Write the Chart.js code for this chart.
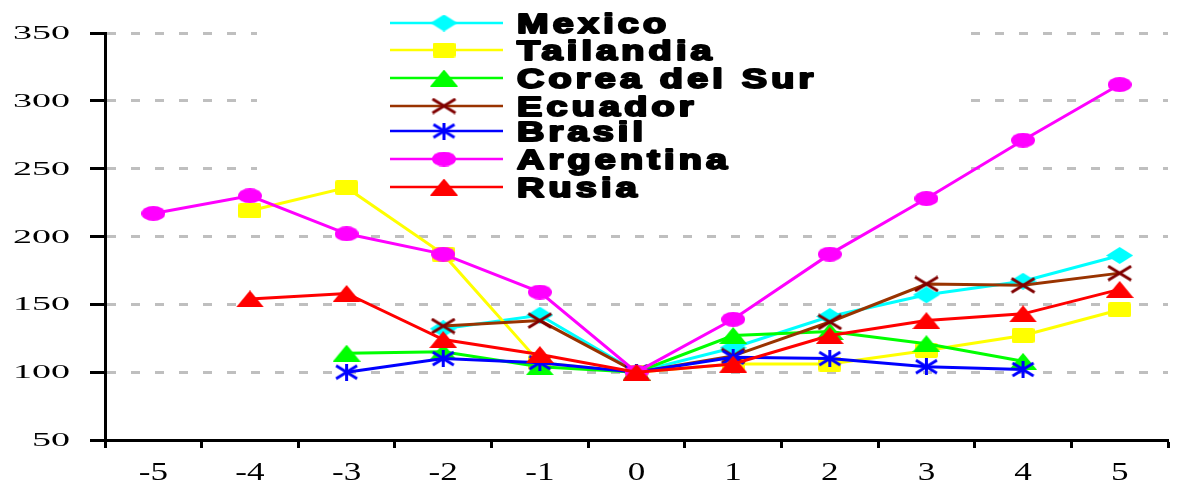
<!DOCTYPE html>
<html>
<head>
<meta charset="utf-8">
<script src="https://cdn.jsdelivr.net/npm/chart.js@4/dist/chart.umd.min.js"></script>
<style>
  html, body { margin: 0; padding: 0; background: #fff; }
  #chart { display: block; }
</style>
</head>
<body>
<canvas id="chart" width="1179" height="489"></canvas>
<script>
// Periods around the crisis (0 = crisis year)
const categories = ['-5', '-4', '-3', '-2', '-1', '0', '1', '2', '3', '4', '5'];

// Index values (crisis year = 100)
const mexico    = [null, null, null, 132, 142, 100, 118, 141, 157, 167, 186];
const tailandia = [null, 219, 236, 187, 107, 100, 106, 106, 116, 127, 146];
const corea     = [null, null, 114, 115, 104, 100, 127, 130, 121, 108, null];
const ecuador   = [null, null, null, 134, 138, 100, 112, 137, 165, 164, 173];
const brasil    = [null, null, 100, 110, 107, 100, 111, 110, 104, 102, null];
const argentina = [217, 230, 202, 187, 159, 100, 139, 187, 228, 271, 312];
const rusia     = [null, 154, 158, 124, 113, 100, 106, 127, 138, 143, 161];

const seriesNames = ['Mexico', 'Tailandia', 'Corea del Sur', 'Ecuador', 'Brasil', 'Argentina', 'Rusia'];

// y axis range and step
const yMin = 50, yMax = 350, yStep = 50;

// Marker sprites (slightly wide, as in the printed chart)
function makeMarker(kind, color, w, h) {
  const c = document.createElement('canvas');
  c.width = w; c.height = h;
  const g = c.getContext('2d');
  g.fillStyle = color;
  g.strokeStyle = color;
  g.lineWidth = 3;
  g.lineCap = 'butt';
  g.beginPath();
  if (kind === 'diamond') {
    g.moveTo(w / 2, 0); g.lineTo(w, h / 2); g.lineTo(w / 2, h); g.lineTo(0, h / 2); g.closePath(); g.fill();
  } else if (kind === 'square') {
    const r = 2;
    g.moveTo(r, 0); g.lineTo(w - r, 0); g.quadraticCurveTo(w, 0, w, r);
    g.lineTo(w, h - r); g.quadraticCurveTo(w, h, w - r, h);
    g.lineTo(r, h); g.quadraticCurveTo(0, h, 0, h - r);
    g.lineTo(0, r); g.quadraticCurveTo(0, 0, r, 0); g.closePath(); g.fill();
  } else if (kind === 'triangle') {
    g.moveTo(w / 2, 0); g.lineTo(w, h); g.lineTo(0, h); g.closePath(); g.fill();
  } else if (kind === 'ellipse') {
    g.ellipse(w / 2, h / 2, w / 2, h / 2, 0, 0, Math.PI * 2); g.fill();
  } else if (kind === 'cross') {
    g.moveTo(2, 1.5); g.lineTo(w - 2, h - 1.5);
    g.moveTo(w - 2, 1.5); g.lineTo(2, h - 1.5); g.stroke();
  } else if (kind === 'star') {
    g.moveTo(3, 2); g.lineTo(w - 3, h - 2);
    g.moveTo(w - 3, 2); g.lineTo(3, h - 2);
    g.moveTo(w / 2, 0); g.lineTo(w / 2, h); g.stroke();
  }
  return c;
}

const styles = [
  { line: '#00FFFF', marker: makeMarker('diamond', '#00FFFF', 27, 17) },
  { line: '#FFFF00', marker: makeMarker('square', '#FFFF00', 23, 15) },
  { line: '#00FF00', marker: makeMarker('triangle', '#00FF00', 28, 17) },
  { line: '#993300', marker: makeMarker('cross', '#800000', 27, 17) },
  { line: '#0000FF', marker: makeMarker('star', '#0000FF', 27, 17) },
  { line: '#FF00FF', marker: makeMarker('ellipse', '#FF00FF', 24, 15) },
  { line: '#FF0000', marker: makeMarker('triangle', '#FF0000', 28, 17) }
];

const seriesData = [mexico, tailandia, corea, ecuador, brasil, argentina, rusia];

const datasets = seriesData.map((d, i) => ({
  label: seriesNames[i],
  data: d,
  borderColor: styles[i].line,
  backgroundColor: styles[i].line,
  borderWidth: 3,
  pointStyle: styles[i].marker,
  pointRadius: 8,
  pointHoverRadius: 8,
  tension: 0,
  spanGaps: false,
  order: seriesData.length - i
}));

// Legend panel: white box over the grid, entries with line, marker and wide heavy text
const legendBox = { x: 257, y: 0, w: 706, h: 176 };
const legendLayout = { lineX1: 390, lineX2: 503, markerX: 444, textX: 517, rows: [23, 50, 78, 106, 131, 159, 187] };

const legendPanel = {
  id: 'legendPanel',
  beforeDatasetsDraw(chart) {
    const ctx = chart.ctx;
    ctx.save();
    ctx.fillStyle = '#fff';
    ctx.fillRect(legendBox.x, legendBox.y, legendBox.w, legendBox.h);
    ctx.restore();
  },
  afterDraw(chart) {
    const ctx = chart.ctx;
    seriesNames.forEach((name, i) => {
      const y = legendLayout.rows[i];
      ctx.save();
      ctx.strokeStyle = styles[i].line;
      ctx.lineWidth = 2.5;
      ctx.beginPath();
      ctx.moveTo(legendLayout.lineX1, y);
      ctx.lineTo(legendLayout.lineX2, y);
      ctx.stroke();
      const m = styles[i].marker;
      ctx.drawImage(m, legendLayout.markerX - m.width / 2, y - m.height / 2);
      ctx.restore();

      ctx.save();
      ctx.translate(legendLayout.textX, y + 10);
      ctx.scale(1.4, 1);
      ctx.font = 'bold 27px "Liberation Sans", Arial, sans-serif';
      if ('letterSpacing' in ctx) ctx.letterSpacing = '3px';
      ctx.fillStyle = '#000';
      ctx.strokeStyle = '#000';
      ctx.lineWidth = 2;
      ctx.lineJoin = 'round';
      ctx.textAlign = 'left';
      ctx.textBaseline = 'alphabetic';
      ctx.fillText(name, 0, 0);
      ctx.strokeText(name, 0, 0);
      if ('letterSpacing' in ctx) ctx.letterSpacing = '0px';
      ctx.restore();
    });
  }
};

// Tick labels in a stretched serif face, placed through the chart's scales
const tickLabels = {
  id: 'tickLabels',
  afterDraw(chart) {
    const ctx = chart.ctx;
    const xs = chart.scales.x, ys = chart.scales.y;
    ctx.save();
    ctx.fillStyle = '#000';
    ctx.textBaseline = 'alphabetic';

    ys.ticks.forEach((t, i) => {
      const py = ys.getPixelForTick(i);
      ctx.save();
      ctx.translate(70, py + 6);
      ctx.scale(2.0, 1);
      ctx.font = '19px "Liberation Serif", "Times New Roman", serif';
      ctx.textAlign = 'right';
      ctx.fillText(String(t.value), 0, 0);
      ctx.restore();
    });

    categories.forEach((c, i) => {
      const px = xs.getPixelForValue(i);
      ctx.save();
      ctx.translate(px, 480);
      ctx.scale(1.35, 1);
      ctx.font = '26px "Liberation Serif", "Times New Roman", serif';
      ctx.textAlign = 'center';
      ctx.fillText(c, 0, 0);
      ctx.restore();
    });
    ctx.restore();
  }
};

new Chart(document.getElementById('chart'), {
  type: 'line',
  data: { labels: categories, datasets },
  options: {
    responsive: false,
    devicePixelRatio: 1,
    animation: false,
    events: [],
    layout: { padding: { top: 33, right: 4, left: 0, bottom: 0 } },
    plugins: {
      legend: { display: false },
      tooltip: { enabled: false },
      title: { display: false }
    },
    scales: {
      x: {
        type: 'category',
        offset: true,
        grid: {
          offset: true,
          drawOnChartArea: false,
          drawTicks: true,
          tickLength: 8,
          tickColor: '#000',
          tickWidth: 3
        },
        border: { display: true, color: '#000', width: 3 },
        ticks: { display: false },
        afterFit(s) { s.height = 49; }
      },
      y: {
        min: yMin,
        max: yMax,
        ticks: { display: false, stepSize: yStep },
        grid: {
          color: '#BFBFBF',
          lineWidth: 3,
          drawTicks: true,
          tickLength: 15,
          tickColor: '#000',
          tickWidth: 3
        },
        border: { display: true, color: '#000', width: 3, dash: [9, 15] },
        afterFit(s) { s.width = 105; }
      }
    }
  },
  plugins: [legendPanel, tickLabels]
});
</script>
</body>
</html>
